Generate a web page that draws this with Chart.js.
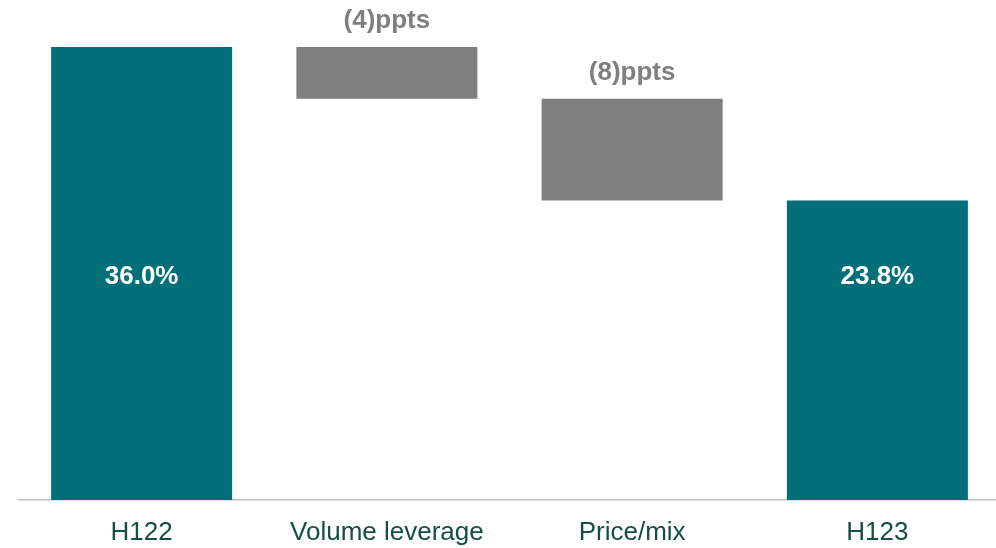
<!DOCTYPE html>
<html>
<head>
<meta charset="utf-8">
<script src="https://cdn.jsdelivr.net/npm/chart.js@4/dist/chart.umd.min.js"></script>
<style>
html,body{margin:0;padding:0;background:#fff;overflow:hidden;width:996px;height:548px;}
canvas{display:block;}
</style>
</head>
<body>
<canvas id="c" width="1000" height="548"></canvas>
<script>
const categories = ["H122", "Volume leverage", "Price/mix", "H123"];
const barStarts = [0, 31.9, 23.8, 0];
const barEnds = [36.0, 36.0, 31.9, 23.8];
const barLabels = ["36.0%", "(4)ppts", "(8)ppts", "23.8%"];
const barKinds = ["total", "delta", "delta", "total"];

const TEAL = "#006f79";
const GREY = "#7f7f7f";
const FONT = "'Liberation Sans', Arial, sans-serif";

const labelPlugin = {
  id: "wfLabels",
  afterDatasetsDraw(chart) {
    const ctx = chart.ctx;
    const meta = chart.getDatasetMeta(0);
    const area = chart.chartArea;
    ctx.save();
    ctx.font = "bold 26px " + FONT;
    ctx.textAlign = "center";
    ctx.textBaseline = "middle";
    meta.data.forEach((bar, i) => {
      const top = Math.min(bar.y, bar.base);
      if (barKinds[i] === "total") {
        ctx.fillStyle = "#ffffff";
        ctx.fillText(barLabels[i], bar.x, area.top + (area.bottom - area.top) * 0.553);
      } else {
        ctx.fillStyle = GREY;
        ctx.fillText(barLabels[i], bar.x, top - 26);
      }
    });
    ctx.restore();
  }
};

new Chart(document.getElementById("c"), {
  type: "bar",
  data: {
    labels: categories,
    datasets: [{
      data: barStarts.map((s, i) => [s, barEnds[i]]),
      backgroundColor: barKinds.map(k => k === "total" ? TEAL : GREY),
      borderWidth: 0,
      borderSkipped: false,
      barPercentage: 0.738,
      categoryPercentage: 1.0
    }]
  },
  options: {
    responsive: false,
    animation: false,
    layout: { padding: { left: 19, right: 0, top: 0, bottom: 0 } },
    plugins: { legend: { display: false }, tooltip: { enabled: false } },
    scales: {
      x: {
        grid: { display: false, drawTicks: false },
        border: { display: true, color: "#bfbfbf", width: 1.5 },
        ticks: { color: "#134f42", font: { family: FONT, size: 26 }, padding: 17, maxRotation: 0, autoSkip: false },
        afterFit: s => { s.height = 48; }
      },
      y: {
        display: false,
        min: 0,
        max: 39.74
      }
    }
  },
  plugins: [labelPlugin]
});
</script>
</body>
</html>
